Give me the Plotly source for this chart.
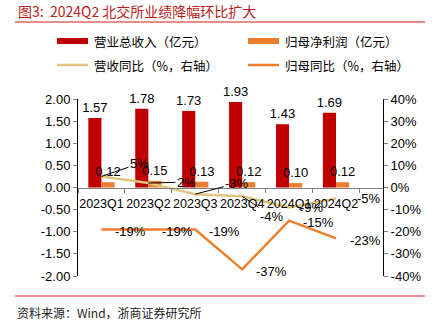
import plotly.graph_objects as go

categories = ["2023Q1", "2023Q2", "2023Q3", "2023Q4", "2024Q1", "2024Q2"]
revenue = [1.57, 1.78, 1.73, 1.93, 1.43, 1.69]          # 营业总收入（亿元）
net_profit = [0.12, 0.15, 0.13, 0.12, 0.10, 0.12]       # 归母净利润（亿元）
revenue_yoy = [5, 2, -3, -4, -9, -5]                    # 营收同比（%）
profit_yoy = [-19, -19, -19, -37, -15, -23]             # 归母同比（%）

left_ticks = [2.0, 1.5, 1.0, 0.5, 0.0, -0.5, -1.0, -1.5, -2.0]
right_ticks = [40, 30, 20, 10, 0, -10, -20, -30, -40]

RED = "#C00000"
ORANGE_BAR = "#ED7D31"
TAN = "#E2C47E"
ORANGE_LINE = "#F07F2A"
AXIS = "#808080"
TICKFONT = dict(family="Liberation Sans, Arial, sans-serif", size=13, color="#000000")
XTICKFONT = dict(family="Liberation Sans, Arial, sans-serif", size=12.5, color="#000000")
CJK = "Noto Sans CJK SC"

W, H = 437, 333
ML, MR, MT, MB = 78, 54, 99, 57
PW, PH = W - ML - MR, H - MT - MB


def px(x):
    return (x - ML) / PW


def py(y):
    return 1 - (y - MT) / PH


fig = go.Figure()
fig.add_trace(go.Bar(
    x=categories, y=revenue, name="营业总收入（亿元）", marker_color=RED,
    marker_line_width=0, text=[f"{v:.2f}" for v in revenue], textposition="outside",
    textfont=TICKFONT, constraintext="none", cliponaxis=False, yaxis="y"))
fig.add_trace(go.Bar(
    x=categories, y=net_profit, name="归母净利润（亿元）", marker_color=ORANGE_BAR,
    marker_line_width=0, text=[f"{v:.2f}" for v in net_profit], textposition="outside",
    textfont=TICKFONT, constraintext="none", cliponaxis=False, yaxis="y"))
fig.add_trace(go.Scatter(
    x=categories, y=revenue_yoy, name="营收同比（%，右轴）", mode="lines",
    line=dict(color=TAN, width=2.5), yaxis="y2", cliponaxis=False))
fig.add_trace(go.Scatter(
    x=categories, y=profit_yoy, name="归母同比（%，右轴）", mode="lines",
    line=dict(color=ORANGE_LINE, width=2.5), yaxis="y2", cliponaxis=False))

annotations = []
# revenue yoy labels with leader lines (offsets in px)
tan_offsets = [(38, -13, True), (38, -1, True), (42, -11, True), (30, 20, True), (23, 0, False), (33, 0, False)]
for c, v, (ax, ay, arrow) in zip(categories, revenue_yoy, tan_offsets):
    if arrow:
        annotations.append(dict(x=c, y=v, xref="x", yref="y2", text=f"{v}%", showarrow=True,
                                arrowhead=0, arrowwidth=1, arrowcolor="#000000", ax=ax, ay=ay,
                                font=TICKFONT, standoff=0))
    else:
        annotations.append(dict(x=c, y=v, xref="x", yref="y2", text=f"{v}%", showarrow=False,
                                xshift=ax, yshift=-ay, font=TICKFONT))
for c, v in zip(categories, profit_yoy):
    annotations.append(dict(x=c, y=v, xref="x", yref="y2", text=f"{v}%", showarrow=False,
                            xshift=29, yshift=-2, font=TICKFONT))

# title and source
annotations.append(dict(x=px(16), y=py(11), xref="paper", yref="paper", xanchor="left", yanchor="middle",
                        text="图3:  2024Q2 北交所业绩降幅环比扩大", showarrow=False,
                        font=dict(family=CJK, size=14, color="#B81C1C")))
annotations.append(dict(x=px(15), y=py(312), xref="paper", yref="paper", xanchor="left", yanchor="middle",
                        text="资料来源：Wind，浙商证券研究所", showarrow=False,
                        font=dict(family=CJK, size=12, color="#222222")))

shapes = [
    dict(type="line", xref="paper", yref="paper", x0=px(15), x1=px(425), y0=py(22), y1=py(22),
         line=dict(color="#E06666", width=1.5)),
    dict(type="line", xref="paper", yref="paper", x0=px(15), x1=px(425), y0=py(296), y1=py(296),
         line=dict(color="#E06666", width=1.5)),
]

# custom legend
legend_items = [
    ("营业总收入（亿元）", RED, "rect", 57, 41),
    ("归母净利润（亿元）", ORANGE_BAR, "rect", 248, 41),
    ("营收同比（%，右轴）", TAN, "line", 57, 65),
    ("归母同比（%，右轴）", ORANGE_LINE, "line", 248, 65),
]
for name, color, kind, x0, yc in legend_items:
    if kind == "rect":
        shapes.append(dict(type="rect", xref="paper", yref="paper", x0=px(x0), x1=px(x0 + 31),
                           y0=py(yc - 3), y1=py(yc + 3), fillcolor=color, line=dict(width=0)))
    else:
        shapes.append(dict(type="line", xref="paper", yref="paper", x0=px(x0), x1=px(x0 + 31),
                           y0=py(yc), y1=py(yc), line=dict(color=color, width=2.5)))
    annotations.append(dict(x=px(x0 + 35), y=py(yc), xref="paper", yref="paper", xanchor="left",
                            yanchor="middle", text=name, showarrow=False,
                            font=dict(family=CJK, size=12.5, color="#000000")))

fig.update_layout(
    width=W, height=H,
    margin=dict(l=ML, r=MR, t=MT, b=MB, pad=0),
    paper_bgcolor="white", plot_bgcolor="white",
    barmode="group", bargap=0.44, bargroupgap=0,
    showlegend=False,
    xaxis=dict(type="category", anchor="free", position=0.5, showline=True, linecolor=AXIS,
               linewidth=1, ticks="outside", tickson="boundaries", ticklen=4, tickcolor=AXIS,
               tickangle=0, ticklabelstandoff=4, tickfont=XTICKFONT, showgrid=False,
               zeroline=False, fixedrange=True),
    yaxis=dict(range=[-2, 2], tickvals=left_ticks, ticktext=[f"{v:.2f}" for v in left_ticks],
               showline=True, linecolor="#000000", linewidth=1, ticks="outside", ticklen=4,
               tickcolor=AXIS, tickfont=TICKFONT, showgrid=False, zeroline=False),
    yaxis2=dict(range=[-40, 40], tickvals=right_ticks, ticktext=[f"{v}%" for v in right_ticks],
                overlaying="y", side="right", showline=True, linecolor="#000000", linewidth=1,
                ticks="outside", ticklen=4, tickcolor=AXIS, tickfont=TICKFONT, showgrid=False,
                zeroline=False),
    annotations=annotations,
    shapes=shapes,
)

fig.write_html("out.html")
